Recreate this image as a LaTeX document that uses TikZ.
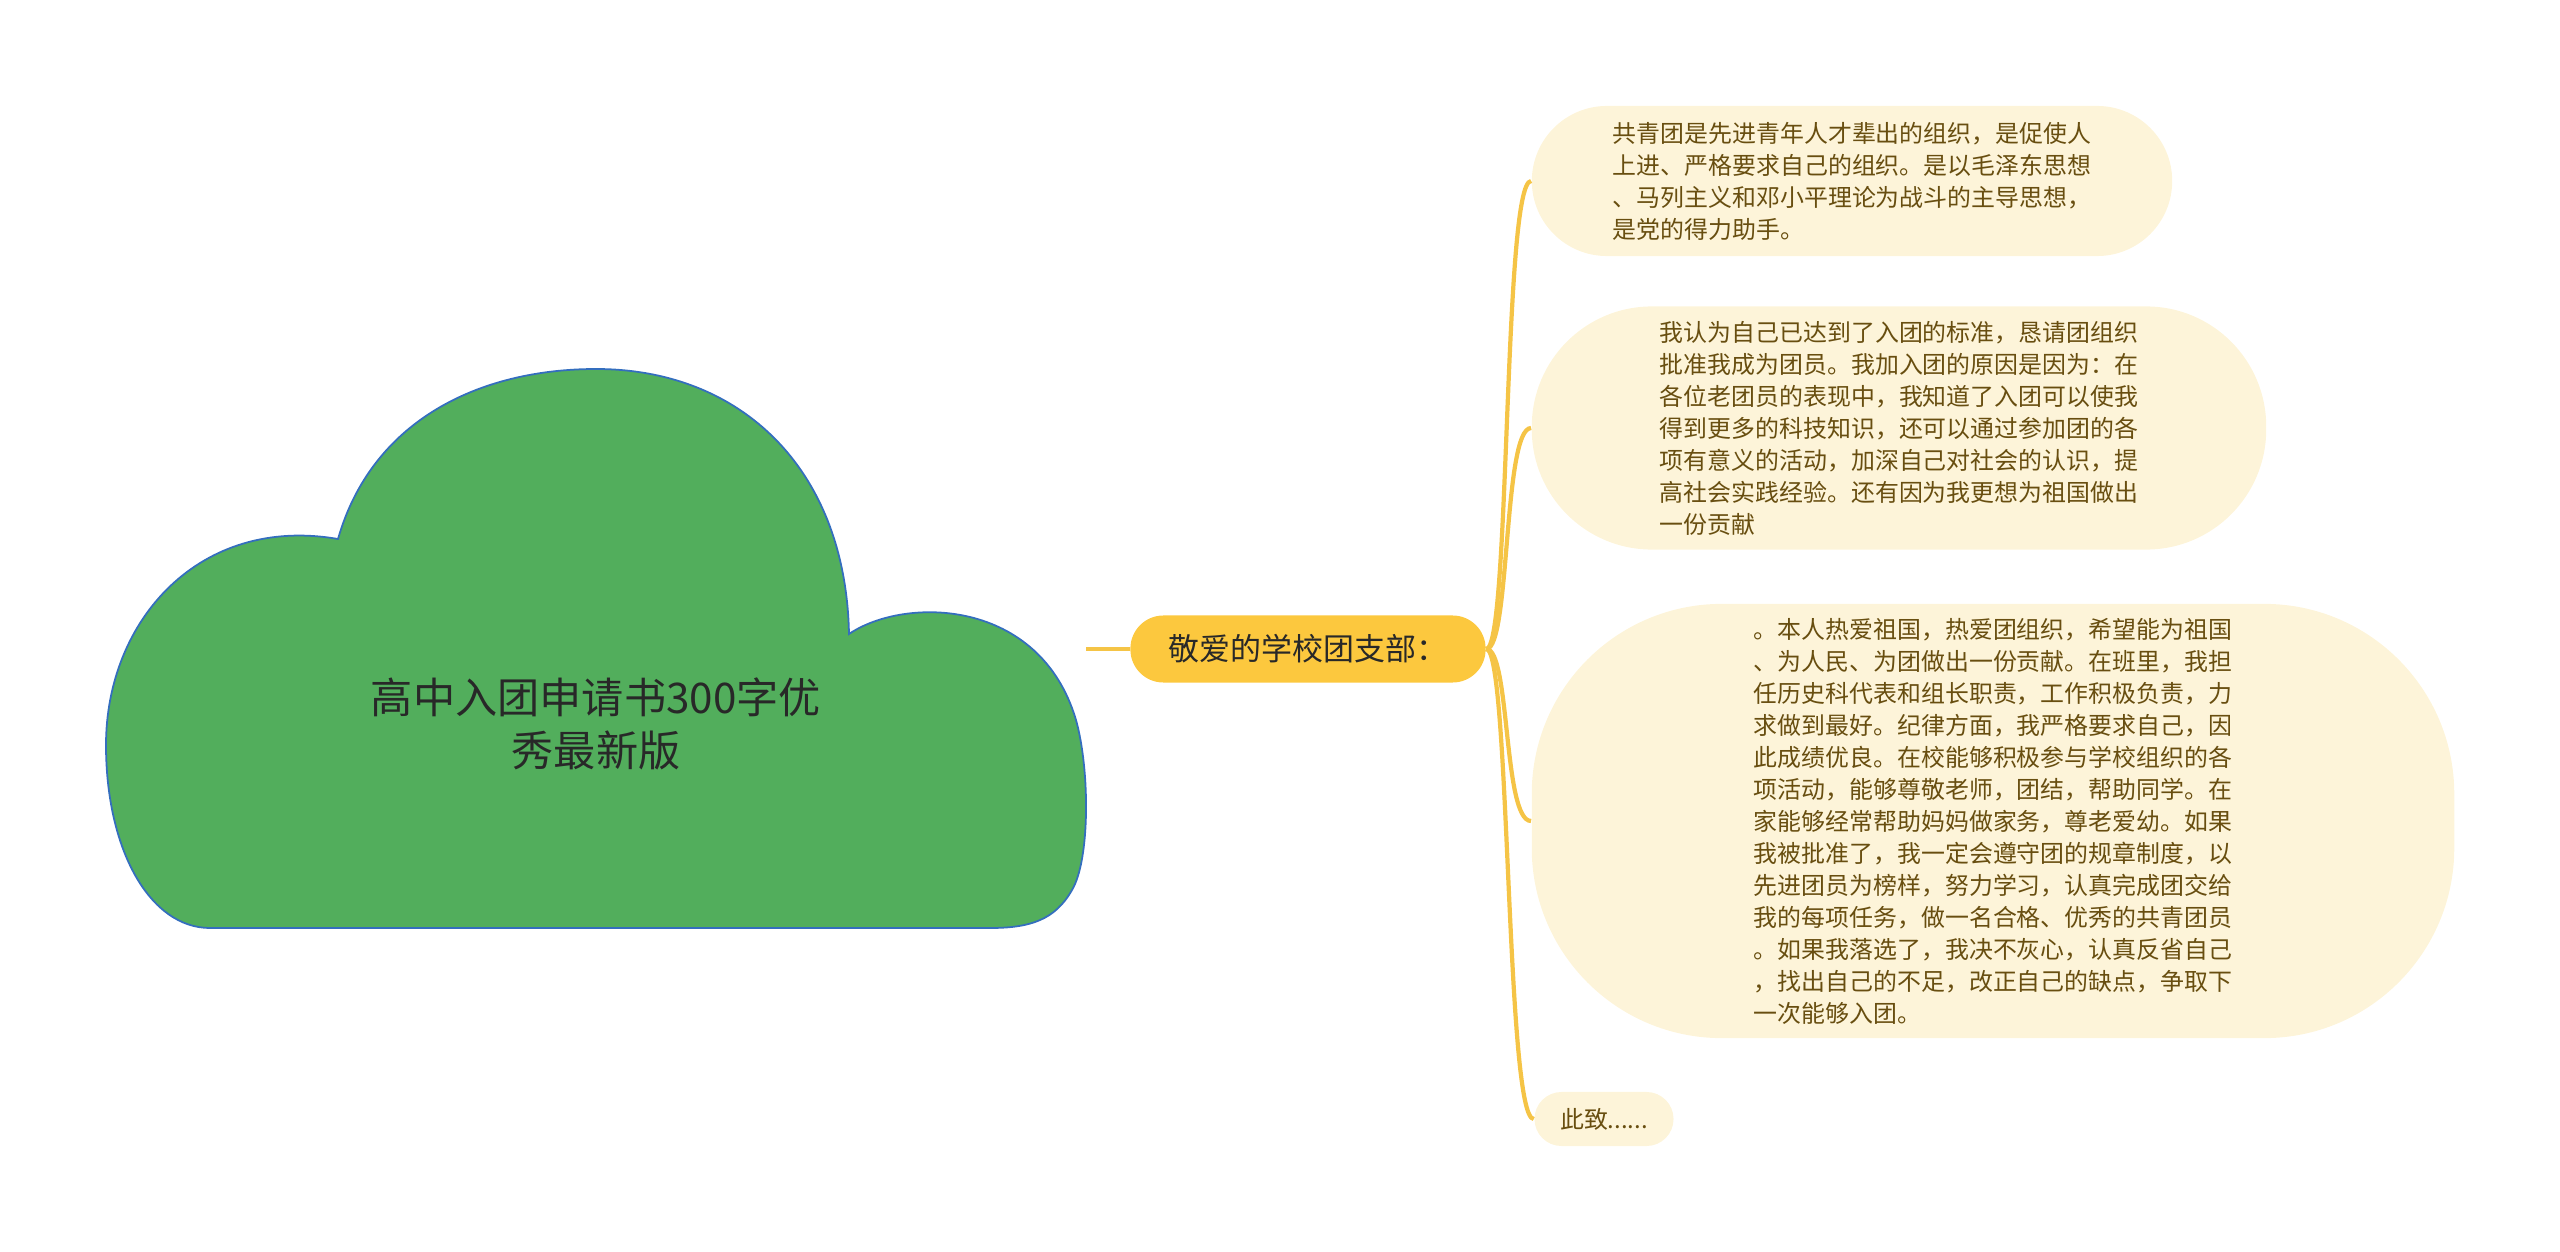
\documentclass[tikz,border=0pt]{standalone}
\usepackage{fontspec}
\setmainfont{Noto Sans CJK SC}
\usepackage{xcolor}
\usetikzlibrary{positioning}
\definecolor{CloudGreen}{RGB}{82,174,92}
\definecolor{CloudEdge}{RGB}{52,110,190}
\definecolor{HubYellow}{RGB}{252,200,62}
\definecolor{LinkYellow}{RGB}{245,196,70}
\definecolor{LeafCream}{RGB}{253,244,217}
\definecolor{LeafText}{RGB}{104,78,16}
\definecolor{DarkText}{RGB}{40,40,40}

\begin{document}
\begin{tikzpicture}[
  x=0.01cm, y=-0.01cm,
  hub/.style={rectangle, rounded corners=0.33cm, fill=HubYellow,
              minimum width=3.55cm, minimum height=0.67cm, inner sep=0pt,
              text=DarkText, font=\fontsize{8.8}{10}\selectfont},
  leaf/.style={rectangle, fill=LeafCream, inner sep=0pt, align=left,
               text=LeafText, font=\fontsize{6.8}{9.1}\selectfont},
  link/.style={LinkYellow, line width=1.2pt}
]
\useasboundingbox (0,0) rectangle (2560,1252);

% Cloud
\draw[CloudEdge, fill=CloudGreen, line width=0.5pt]
  (338,539) .. controls (372,420) and (480,369) .. (596,369)
  .. controls (742,369) and (846,470) .. (849,634)
  .. controls (905,596) and (1040,598) .. (1076,720)
  .. controls (1090,770) and (1090,860) .. (1072,890)
  .. controls (1055,920) and (1030,928) .. (990,928)
  -- (210,928)
  .. controls (150,928) and (106,850) .. (106,745)
  .. controls (106,620) and (200,515) .. (338,539) -- cycle;
\node[align=center, text=DarkText, font=\fontsize{12}{15}\selectfont]
  (root) at (596,724) {高中入团申请书300字优\\秀最新版};
\coordinate (rootR) at (1086,649);

% Hub
\node[hub] (hub) at (1308,649) {敬爱的学校团支部：};

% Leaves
\node[leaf, minimum width=6.4cm, minimum height=1.5cm, rounded corners=0.75cm]
  (party) at (1852,181) {共青团是先进青年人才辈出的组织，是促使人\\上进、严格要求自己的组织。是以毛泽东思想\\、马列主义和邓小平理论为战斗的主导思想，\\是党的得力助手。};
\node[leaf, minimum width=7.34cm, minimum height=2.43cm, rounded corners=1.2cm]
  (reason) at (1899,428) {我认为自己已达到了入团的标准，恳请团组织\\批准我成为团员。我加入团的原因是因为：在\\各位老团员的表现中，我知道了入团可以使我\\得到更多的科技知识，还可以通过参加团的各\\项有意义的活动，加深自己对社会的认识，提\\高社会实践经验。还有因为我更想为祖国做出\\一份贡献};
\node[leaf, minimum width=9.22cm, minimum height=4.34cm, rounded corners=1.9cm]
  (pledge) at (1993,821) {。本人热爱祖国，热爱团组织，希望能为祖国\\、为人民、为团做出一份贡献。在班里，我担\\任历史科代表和组长职责，工作积极负责，力\\求做到最好。纪律方面，我严格要求自己，因\\此成绩优良。在校能够积极参与学校组织的各\\项活动，能够尊敬老师，团结，帮助同学。在\\家能够经常帮助妈妈做家务，尊老爱幼。如果\\我被批准了，我一定会遵守团的规章制度，以\\先进团员为榜样，努力学习，认真完成团交给\\我的每项任务，做一名合格、优秀的共青团员\\。如果我落选了，我决不灰心，认真反省自己\\，找出自己的不足，改正自己的缺点，争取下\\一次能够入团。};
\node[leaf, minimum width=1.39cm, minimum height=0.54cm, rounded corners=0.27cm]
  (close) at (1604,1119) {此致......};

% Links
\draw[link] (rootR) -- (hub.west);
\foreach \n in {party, reason, pledge, close}
  \draw[link] (hub.east) .. controls +(0.24cm,0) and ([xshift=-0.28cm]\n.west) .. (\n.west);
\end{tikzpicture}
\end{document}
